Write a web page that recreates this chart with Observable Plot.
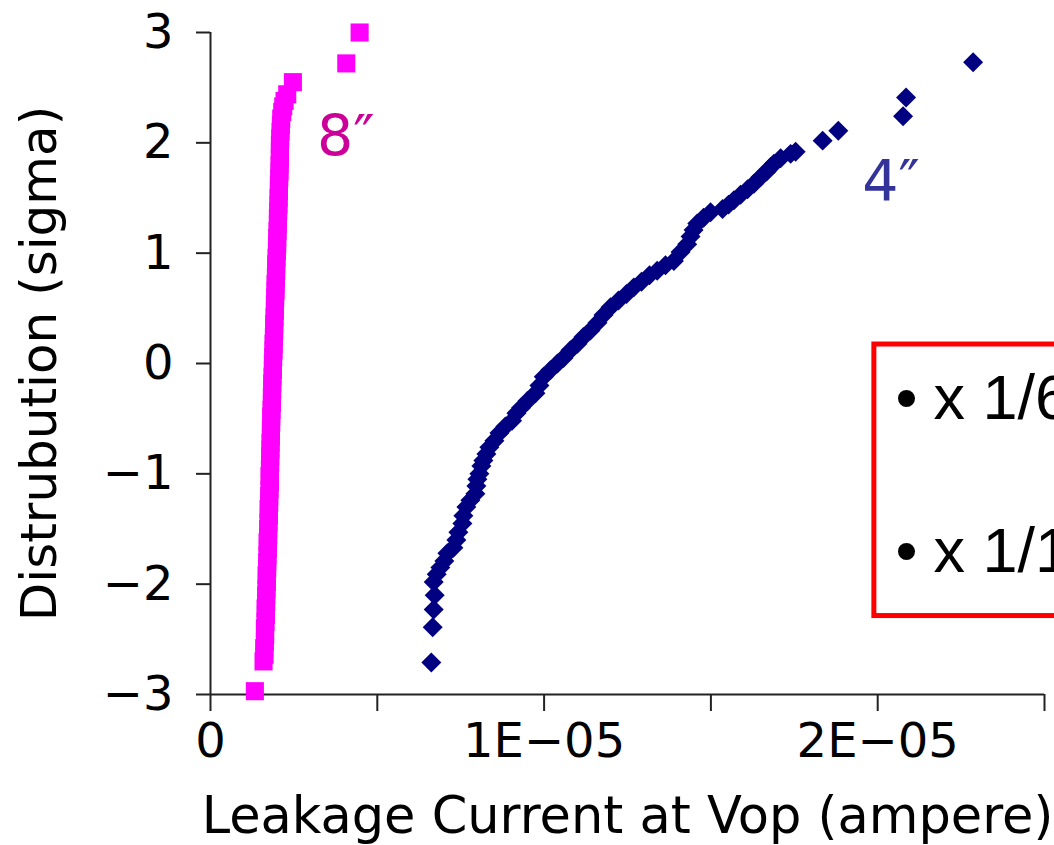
<!DOCTYPE html>
<html>
<head>
<meta charset="utf-8">
<script src="https://cdn.jsdelivr.net/npm/d3@7"></script>
<script src="https://cdn.jsdelivr.net/npm/@observablehq/plot@0.6"></script>
<style>
  html, body { margin: 0; padding: 0; background: #fff; overflow: hidden; }
  #chart { width: 1054px; height: 845px; overflow: hidden; }
</style>
</head>
<body>
<div id="chart"></div>
<script>
// Leakage current (µA) vs. normal score (sigma), 8-inch wafers
const wafer8 = [
  [1.33, -2.97], [1.59, -2.70], [1.62, -2.64], [1.61, -2.58], [1.63, -2.52], [1.64, -2.46],
  [1.63, -2.40], [1.65, -2.34], [1.66, -2.28], [1.65, -2.22], [1.67, -2.16], [1.67, -2.10],
  [1.68, -2.04], [1.69, -1.98], [1.68, -1.92], [1.70, -1.86], [1.70, -1.80], [1.71, -1.74],
  [1.72, -1.68], [1.71, -1.62], [1.73, -1.56], [1.73, -1.50], [1.74, -1.44], [1.75, -1.38],
  [1.74, -1.32], [1.76, -1.26], [1.76, -1.20], [1.77, -1.14], [1.78, -1.08], [1.77, -1.02],
  [1.78, -0.96], [1.79, -0.90], [1.79, -0.84], [1.80, -0.78], [1.80, -0.72], [1.81, -0.66],
  [1.81, -0.60], [1.82, -0.54], [1.82, -0.48], [1.83, -0.42], [1.84, -0.36], [1.84, -0.30],
  [1.85, -0.24], [1.85, -0.18], [1.86, -0.12], [1.87, -0.06], [1.87, 0.00], [1.88, 0.06],
  [1.89, 0.12], [1.89, 0.18], [1.90, 0.24], [1.91, 0.30], [1.91, 0.36], [1.92, 0.42],
  [1.93, 0.48], [1.93, 0.54], [1.94, 0.60], [1.95, 0.66], [1.95, 0.72], [1.96, 0.78],
  [1.97, 0.84], [1.97, 0.90], [1.98, 0.96], [1.99, 1.02], [2.00, 1.08], [2.00, 1.14],
  [2.01, 1.20], [2.02, 1.26], [2.02, 1.32], [2.03, 1.38], [2.04, 1.44], [2.04, 1.50],
  [2.05, 1.56], [2.05, 1.62], [2.06, 1.68], [2.07, 1.74], [2.07, 1.80], [2.08, 1.86],
  [2.08, 1.92], [2.08, 1.98], [2.09, 2.04], [2.10, 2.10], [2.11, 2.16], [2.12, 2.22],
  [2.15, 2.28], [2.18, 2.33], [2.22, 2.38], [2.30, 2.44], [2.47, 2.55], [4.07, 2.72],
  [4.47, 3.00]
];

// Leakage current (µA) vs. normal score (sigma), 4-inch wafers
const wafer4 = [
  [6.62, -2.71], [6.66, -2.39], [6.69, -2.23], [6.72, -2.10], [6.69, -1.98], [6.78, -1.91],
  [6.89, -1.85], [7.01, -1.79], [7.10, -1.72], [7.28, -1.67], [7.37, -1.60], [7.43, -1.53],
  [7.55, -1.45], [7.58, -1.38], [7.67, -1.30], [7.79, -1.24], [7.94, -1.18], [7.97, -1.11],
  [8.00, -1.05], [8.06, -1.00], [8.12, -0.93], [8.18, -0.88], [8.27, -0.82], [8.36, -0.76],
  [8.51, -0.70], [8.66, -0.63], [8.84, -0.57], [9.04, -0.52], [9.17, -0.45], [9.31, -0.40],
  [9.50, -0.34], [9.74, -0.27], [9.86, -0.20], [9.99, -0.12], [10.19, -0.06], [10.40, 0.00],
  [10.58, 0.05], [10.79, 0.12], [11.00, 0.18], [11.18, 0.24], [11.39, 0.30], [11.60, 0.37],
  [11.78, 0.44], [11.99, 0.51], [12.23, 0.57], [12.47, 0.63], [12.69, 0.69], [12.92, 0.74],
  [13.16, 0.80], [13.39, 0.84], [13.64, 0.89], [13.89, 0.93], [14.09, 1.01], [14.29, 1.08],
  [14.39, 1.15], [14.48, 1.21], [14.59, 1.27], [14.78, 1.32], [14.99, 1.37], [15.35, 1.40],
  [15.53, 1.44], [15.69, 1.48], [15.89, 1.53], [16.10, 1.58], [16.29, 1.63], [16.49, 1.69],
  [16.67, 1.74], [16.79, 1.78], [16.89, 1.81], [17.09, 1.86], [17.39, 1.90], [17.54, 1.92],
  [18.35, 2.02], [18.82, 2.11], [20.76, 2.24], [20.85, 2.41], [22.86, 2.73]
];

// Axis ticks
const xTicks = [0, 5e-6, 1e-5, 1.5e-5, 2e-5, 2.5e-5];
const xTickLabels = ["0", "", "1E\u221205", "", "2E\u221205", ""];
const yTicks = [-3, -2, -1, 0, 1, 2, 3];
const yTickLabels = ["\u22123", "\u22122", "\u22121", "0", "1", "2", "3"];

// Axis titles
const xTitle = "Leakage Current at Vop (ampere)";
const yTitle = "Distrubution (sigma)";

// Series names, anchored in data units (µA, sigma)
const seriesNames = [
  {name: "8\u2033", current: 3.19, sigma: 1.885},
  {name: "4\u2033", current: 19.54, sigma: 1.477}
];

// Callout box and its bullet lines, in data units (µA, sigma)
const callout = {left: 19.90, right: 30, top: 0.172, bottom: -2.289};
const calloutLines = [
  {text: "x 1/6", bulletAt: 20.53, textAt: 21.67, sigma: -0.499},
  {text: "x 1/10", bulletAt: 20.53, textAt: 21.67, sigma: -1.894}
];

const uA = v => v * 1e-6;
const pts8 = wafer8.map(([c, s]) => ({current: uA(c), sigma: s}));
const pts4 = wafer4.map(([c, s]) => ({current: uA(c), sigma: s}));
const names = seriesNames.map(d => ({...d, current: uA(d.current)}));
const lines = calloutLines.map(d => ({...d, bulletAt: uA(d.bulletAt), textAt: uA(d.textAt)}));
const box = [{x1: uA(callout.left), x2: uA(callout.right), y1: callout.bottom, y2: callout.top}];
const xLabelOf = new Map(xTicks.map((t, i) => [t, xTickLabels[i]]));
const yLabelOf = new Map(yTicks.map((t, i) => [t, yTickLabels[i]]));

const chart = Plot.plot({
  width: 1054,
  height: 845,
  marginLeft: 210,
  marginRight: 10,
  marginTop: 32,
  marginBottom: 151,
  style: {fontFamily: "'DejaVu Sans', sans-serif", fontSize: "48px", color: "#000", background: "#fff"},
  x: {domain: [0, 2.5e-5]},
  y: {domain: [-3, 3]},
  marks: [
    Plot.axisX({ticks: xTicks, tickFormat: d => xLabelOf.get(d), tickSize: 17, tickPadding: 11,
                strokeWidth: 2, stroke: "#222", label: null}),
    Plot.axisY({ticks: yTicks, tickFormat: d => yLabelOf.get(d), tickSize: 14, tickPadding: 23,
                strokeWidth: 2, stroke: "#222", label: null}),
    Plot.ruleX([0], {stroke: "#222", strokeWidth: 2}),
    Plot.ruleY([-3], {stroke: "#222", strokeWidth: 2}),
    Plot.text([xTitle], {text: d => d, frameAnchor: "bottom", textAnchor: "middle", dy: 138,
              lineAnchor: "bottom", fontSize: 51, fill: "#000"}),
    Plot.text([yTitle], {text: d => d, frameAnchor: "left", textAnchor: "middle", dx: -155, rotate: -90,
              lineAnchor: "bottom", fontSize: 50, fill: "#000"}),
    Plot.dot(pts8, {x: "current", y: "sigma", symbol: "square", r: 10.2, fill: "#ff00ff", stroke: "none"}),
    Plot.dot(pts4, {x: "current", y: "sigma", symbol: "diamond2", r: 9, fill: "#000080", stroke: "none"}),
    Plot.text(names, {x: "current", y: "sigma", text: "name", textAnchor: "start", lineAnchor: "bottom",
              fontSize: 57, fill: (d, i) => i === 0 ? "#cc0099" : "#333399"}),
    Plot.rect(box, {x1: "x1", x2: "x2", y1: "y1", y2: "y2", fill: "none", stroke: "#ff0000", strokeWidth: 5}),
    Plot.text(lines, {x: "bulletAt", y: "sigma", text: () => "\u2022", textAnchor: "start", lineAnchor: "bottom",
              fontFamily: "'Liberation Sans', Arial, sans-serif", fontSize: 63, fill: "#000"}),
    Plot.text(lines, {x: "textAt", y: "sigma", text: "text", textAnchor: "start", lineAnchor: "bottom",
              fontFamily: "'Liberation Sans', Arial, sans-serif", fontSize: 63, fill: "#000"})
  ]
});

document.getElementById("chart").append(chart);
</script>
</body>
</html>
